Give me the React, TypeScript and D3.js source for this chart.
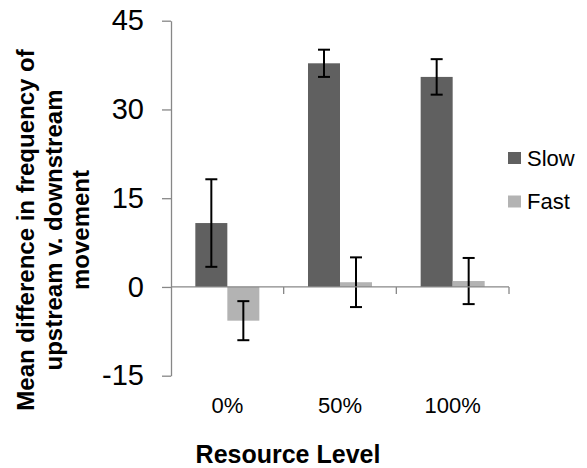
import * as d3 from "d3";
import React, { useRef, useEffect } from "react";

const width = 587;
const height = 468;

const categories = ["0%", "50%", "100%"];
const seriesNames = ["Slow", "Fast"];
const slowValues = [10.8, 37.8, 35.5];
const slowErrors = [7.4, 2.3, 3.0];
const fastValues = [-5.7, 0.8, 1.0];
const fastErrors = [3.3, 4.2, 3.9];
const yTicks = [-15, 0, 15, 30, 45];

const colors = { Slow: "#606060", Fast: "#b3b3b3" };
const axisColor = "#878787";
const font = "'Liberation Sans', Arial, sans-serif";

const plot = { left: 171, right: 509, top: 20.7, bottom: 375.7 };

const App = () => {
  const svgRef = useRef<SVGSVGElement>(null);

  useEffect(() => {
    const svg = d3.select(svgRef.current);
    svg.selectAll("*").remove();

    const rows = categories.map((c, i) => ({
      category: c,
      values: [
        { series: "Slow", value: slowValues[i], err: slowErrors[i] },
        { series: "Fast", value: fastValues[i], err: fastErrors[i] },
      ],
    }));

    const yScale = d3.scaleLinear().domain([-15, 45]).range([plot.bottom, plot.top]);
    const xScale = d3.scaleBand().domain(categories).range([plot.left, plot.right]).padding(0);
    const xInner = d3
      .scaleBand()
      .domain(seriesNames)
      .range([0, xScale.bandwidth()])
      .paddingInner(0)
      .paddingOuter(0.76);

    // y axis
    const yAxis = svg.append("g").attr("transform", `translate(${plot.left},0)`);
    yAxis
      .call(
        d3
          .axisLeft(yScale)
          .tickValues(yTicks)
          .tickFormat((d) => String(d))
          .tickSize(9)
          .tickPadding(18)
          .tickSizeOuter(0)
      )
      .call((g) => g.selectAll("line, path").attr("stroke", axisColor).attr("stroke-width", 1.3))
      .call((g) =>
        g.selectAll("text").attr("font-family", font).attr("font-size", 29).attr("fill", "#000")
      );

    // bars
    const groups = svg
      .append("g")
      .selectAll("g")
      .data(rows)
      .join("g")
      .attr("transform", (d) => `translate(${xScale(d.category)},0)`);

    groups
      .selectAll("rect")
      .data((d) => d.values)
      .join("rect")
      .attr("x", (d) => xInner(d.series)!)
      .attr("width", xInner.bandwidth())
      .attr("y", (d) => yScale(Math.max(0, d.value)))
      .attr("height", (d) => Math.abs(yScale(d.value) - yScale(0)))
      .attr("fill", (d) => colors[d.series]);

    // x axis at zero
    const xAxis = svg.append("g").attr("transform", `translate(0,${yScale(0)})`);
    xAxis
      .append("line")
      .attr("x1", plot.left)
      .attr("x2", plot.right)
      .attr("stroke", axisColor)
      .attr("stroke-width", 1.3);
    xAxis
      .selectAll(".tick")
      .data(categories)
      .join("line")
      .attr("x1", (d) => xScale(d)! + xScale.bandwidth())
      .attr("x2", (d) => xScale(d)! + xScale.bandwidth())
      .attr("y1", 0)
      .attr("y2", 7)
      .attr("stroke", axisColor)
      .attr("stroke-width", 1.3);

    // error bars
    const errs = groups
      .selectAll("g.err")
      .data((d) => d.values)
      .join("g")
      .attr("class", "err")
      .attr("stroke", "#000")
      .attr("stroke-width", 2);
    const cx = (d) => xInner(d.series)! + xInner.bandwidth() / 2;
    errs
      .append("line")
      .attr("x1", cx)
      .attr("x2", cx)
      .attr("y1", (d) => yScale(d.value + d.err))
      .attr("y2", (d) => yScale(d.value - d.err));
    [1, -1].forEach((s) => {
      errs
        .append("line")
        .attr("x1", (d) => cx(d) - 6)
        .attr("x2", (d) => cx(d) + 6)
        .attr("y1", (d) => yScale(d.value + s * d.err))
        .attr("y2", (d) => yScale(d.value + s * d.err));
    });

    // category labels
    svg
      .append("g")
      .selectAll("text")
      .data(categories)
      .join("text")
      .attr("x", (d) => xScale(d)! + xScale.bandwidth() / 2)
      .attr("y", 413)
      .attr("text-anchor", "middle")
      .attr("font-family", font)
      .attr("font-size", 22)
      .text((d) => d);

    // x title
    svg
      .append("text")
      .attr("x", 288)
      .attr("y", 463)
      .attr("text-anchor", "middle")
      .attr("font-family", font)
      .attr("font-size", 25)
      .attr("font-weight", "bold")
      .text("Resource Level");

    // y title
    const yTitle = ["Mean difference in frequency of", "upstream v. downstream", "movement"];
    svg
      .append("g")
      .attr("transform", "translate(34,230) rotate(-90)")
      .selectAll("text")
      .data(yTitle)
      .join("text")
      .attr("x", 0)
      .attr("y", (_, i) => i * 27.5)
      .attr("text-anchor", "middle")
      .attr("font-family", font)
      .attr("font-size", 24)
      .attr("font-weight", "bold")
      .text((d) => d);

    // legend
    const legend = svg
      .append("g")
      .selectAll("g")
      .data(seriesNames)
      .join("g")
      .attr("transform", (_, i) => `translate(508,${152 + i * 43.5})`);
    legend
      .append("rect")
      .attr("width", 13)
      .attr("height", 12)
      .attr("fill", (d) => colors[d]);
    legend
      .append("text")
      .attr("x", 19)
      .attr("y", 13.5)
      .attr("font-family", font)
      .attr("font-size", 22)
      .text((d) => d);
  }, []);

  return (
    <svg
      ref={svgRef}
      width={width}
      height={height}
      style={{ position: "absolute", left: 0, top: 0, background: "#fff" }}
    ></svg>
  );
};

export default App;
